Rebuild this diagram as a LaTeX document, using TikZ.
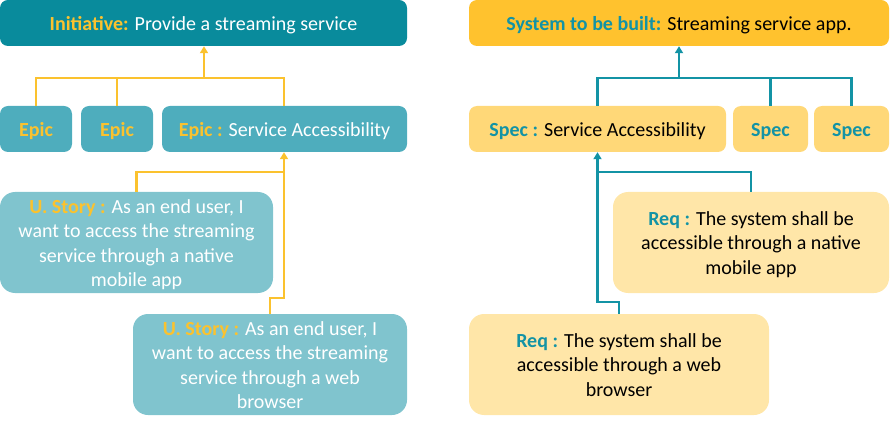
\documentclass[tikz,border=0pt]{standalone}
\usepackage{fontspec}
\setmainfont{Carlito}
\usetikzlibrary{arrows.meta}
\definecolor{darkteal}{HTML}{098B9C}
\definecolor{epicc}{HTML}{4EADBD}
\definecolor{storyc}{HTML}{80C4CE}
\definecolor{yl}{HTML}{FBC22E}
\definecolor{sysc}{HTML}{FFC22E}
\definecolor{specc}{HTML}{FFD878}
\definecolor{reqc}{HTML}{FFE6A8}
\definecolor{tl}{HTML}{1393A5}
\newcommand{\ylab}[1]{\textcolor{yl}{\bfseries #1}}
\newcommand{\tlab}[1]{\textcolor{tl}{\bfseries #1}}
\newcommand{\shifted}[1]{\raisebox{-2.5pt}[\height][\depth]{\begin{tabular}{@{}c@{}}#1\end{tabular}}}
\begin{document}
\begin{tikzpicture}[x=1pt,y=-1pt,
  box/.style={rectangle, rounded corners=8pt, inner sep=0pt, align=center, draw=none,
    font=\fontsize{20}{24.5}\selectfont},
  bigbox/.style={box, rounded corners=15pt},
  yconn/.style={draw=yl, line width=2.8pt},
  tconn/.style={draw=tl, line width=2.8pt},
  tip/.style={-{Triangle[width=8pt,length=7pt]}},
]
\useasboundingbox (0,0) rectangle (890,427);

% ---------- left side ----------
\node[box, fill=darkteal, text=white, minimum width=407pt, minimum height=46pt] (init) at (203.5,23)
  {\shifted{\ylab{Initiative:} Provide a streaming service}};
\node[box, fill=epicc, text=white, minimum width=72pt, minimum height=46pt] (e1) at (36,129) {\shifted{\ylab{Epic}}};
\node[box, fill=epicc, text=white, minimum width=72pt, minimum height=46pt] (e2) at (117,129) {\shifted{\ylab{Epic}}};
\node[box, fill=epicc, text=white, minimum width=245pt, minimum height=46pt] (e3) at (284.5,129)
  {\shifted{\ylab{Epic :} Service Accessibility}};
\node[bigbox, fill=storyc, text=white, minimum width=273pt, minimum height=101pt] (s1) at (136.5,242.5)
  {\shifted{\ylab{U. Story :} As an end user, I\\want to access the streaming\\service through a native\\mobile app}};
\node[bigbox, fill=storyc, text=white, minimum width=274pt, minimum height=101pt] (s2) at (270,364.5)
  {\shifted{\ylab{U. Story :} As an end user, I\\want to access the streaming\\service through a web\\browser}};

\coordinate (lbus) at (204,78);
\coordinate (lj1) at (284,172);
\coordinate (lj2) at (284,298);
\draw[yconn] (e1.north) |- (lbus);
\draw[yconn] (e2.north) -- (e2.north |- lbus);
\draw[yconn] (e3.north -| lj1) |- (lbus);
\draw[yconn, tip] (lbus) -- (lbus |- init.south);
\draw[yconn] (s1.north) |- (lj1);
\draw[yconn] (s2.north) |- (lj2) -- (lj1);
\draw[yconn, tip] (lj1) -- (lj1 |- e3.south);

% ---------- right side ----------
\node[box, fill=sysc, text=black, minimum width=420pt, minimum height=46pt] (sys) at (679,23)
  {\shifted{\tlab{System to be built:} Streaming service app.}};
\node[box, fill=specc, text=black, minimum width=257pt, minimum height=46pt] (p1) at (597.5,129)
  {\shifted{\tlab{Spec :} Service Accessibility}};
\node[box, fill=specc, text=black, minimum width=75pt, minimum height=46pt] (p2) at (770.5,129) {\shifted{\tlab{Spec}}};
\node[box, fill=specc, text=black, minimum width=75pt, minimum height=46pt] (p3) at (851.5,129) {\shifted{\tlab{Spec}}};
\node[bigbox, fill=reqc, text=black, minimum width=276pt, minimum height=101pt] (r1) at (751,242.5)
  {\shifted{\tlab{Req :} The system shall be\\accessible through a native\\mobile app}};
\node[bigbox, fill=reqc, text=black, minimum width=300pt, minimum height=101pt] (r2) at (619,364.5)
  {\shifted{\tlab{Req :} The system shall be\\accessible through a web\\browser}};

\coordinate (rbus) at (679,78);
\coordinate (rj1) at (597.5,172);
\coordinate (rj2) at (597.5,302);
\draw[tconn] (p1.north) |- (rbus);
\draw[tconn] (p2.north) -- (p2.north |- rbus);
\draw[tconn] (p3.north) |- (rbus);
\draw[tconn, tip] (rbus) -- (rbus |- sys.south);
\draw[tconn] (r1.north) |- (rj1);
\draw[tconn] (r2.north) |- (rj2) -- (rj1);
\draw[tconn, tip] (rj1) -- (rj1 |- p1.south);
\end{tikzpicture}
\end{document}
